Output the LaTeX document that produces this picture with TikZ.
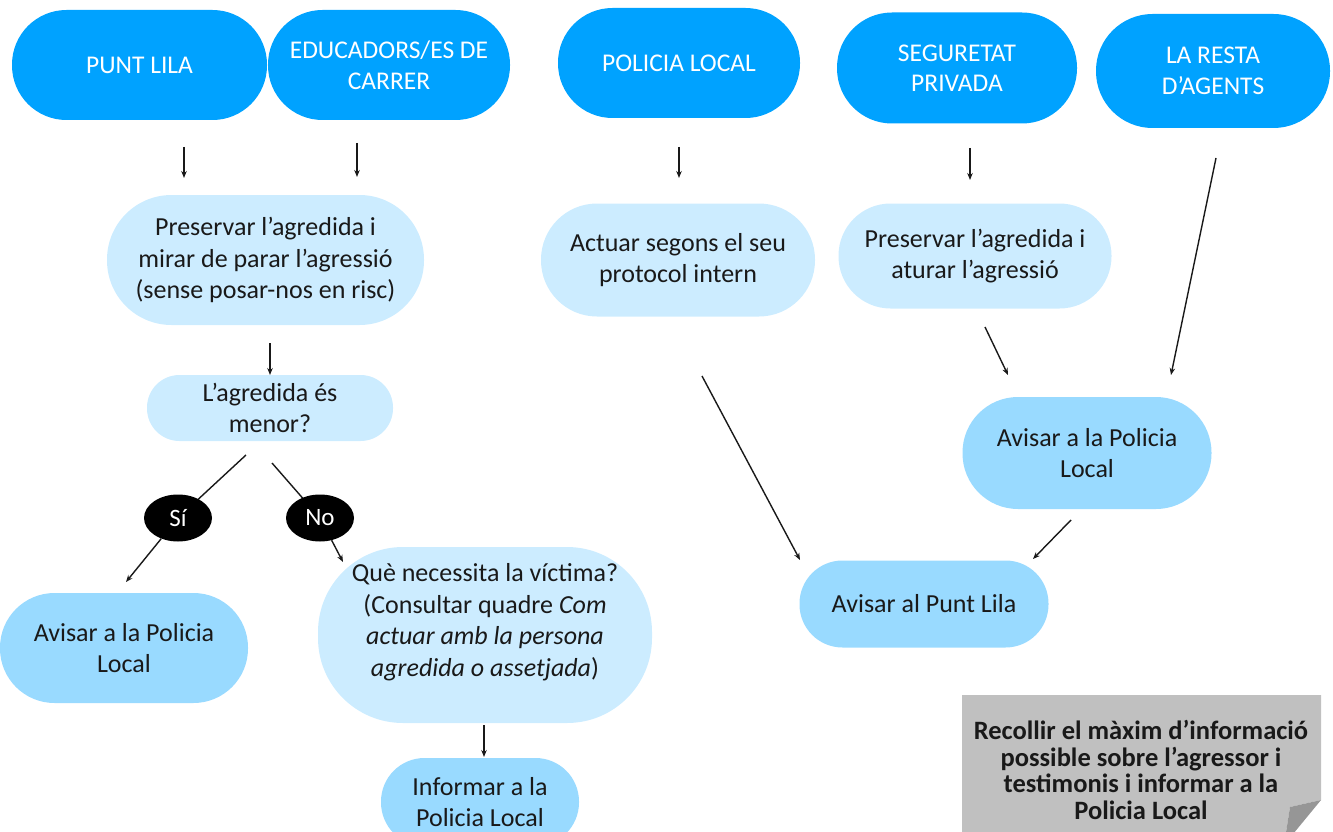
\documentclass[tikz,border=0pt]{standalone}
\usepackage{fontspec}
\setmainfont{Carlito}
\usetikzlibrary{shapes.geometric,arrows.meta}
\definecolor{dblue}{RGB}{0,162,255}
\definecolor{lblue}{RGB}{204,236,255}
\definecolor{mblue}{RGB}{153,218,255}
\definecolor{notegray}{RGB}{192,192,192}
\definecolor{foldgray}{RGB}{150,150,150}
\definecolor{inkcol}{RGB}{25,25,25}
\tikzset{
  box/.style={draw=none, align=center, inner sep=0pt, font=\fontsize{26}{31.5}\selectfont},
  dk/.style={box, fill=dblue, text=white, font=\fontsize{25.5}{30.5}\selectfont},
  lt/.style={box, fill=lblue, text=inkcol},
  md/.style={box, fill=mblue, text=inkcol},
  yn/.style={ellipse, fill=black, text=white, inner sep=0pt, minimum width=68pt, minimum height=47pt, font=\fontsize{25}{28}\selectfont},
  arr/.style={-{Stealth[length=7pt,width=5.5pt]}, line width=1.4pt, draw=inkcol},
  ln/.style={line width=1.4pt, draw=inkcol},
}
\begin{document}
\begin{tikzpicture}[x=1pt,y=-1pt]
\useasboundingbox (0,0) rectangle (1333,832);
\clip (0,0) rectangle (1333,832);
% top row
\node[dk, minimum width=255pt, minimum height=110pt, rounded corners=54.5pt] (punt) at (139.5,65) {PUNT LILA};
\node[dk, minimum width=242pt, minimum height=110pt, rounded corners=54.5pt] (educ) at (389,65) {EDUCADORS/ES DE\\CARRER};
\node[dk, minimum width=242pt, minimum height=110pt, rounded corners=54.5pt] (pol) at (679,63) {POLICIA LOCAL};
\node[dk, minimum width=240pt, minimum height=111pt, rounded corners=55pt] (seg) at (957,68) {SEGURETAT\\PRIVADA};
\node[dk, minimum width=234pt, minimum height=114pt, rounded corners=56.5pt] (resta) at (1213,71) {LA RESTA\\D’AGENTS};
% second row
\node[lt, minimum width=317pt, minimum height=130pt, rounded corners=64.5pt] (pres1) at (265.5,260) {Preservar l’agredida i\\mirar de parar l’agressió\\(sense posar-nos en risc)};
\node[lt, minimum width=274pt, minimum height=113pt, rounded corners=56pt] (actuar) at (678,260) {Actuar segons el seu\\protocol intern};
\node[lt, minimum width=273pt, minimum height=105pt, rounded corners=52pt] (pres2) at (975,256) {Preservar l’agredida i\\aturar l’agressió};
% left branch
\node[lt, minimum width=246pt, minimum height=66pt, rounded corners=32.5pt] (menor) at (270,408) {L’agredida és\\menor?};
\node[md, minimum width=248pt, minimum height=110pt, rounded corners=54.5pt] (avis1) at (124,648) {Avisar a la Policia\\Local};
\node[lt, minimum width=334pt, minimum height=176pt, rounded corners=85pt] (que) at (485,635) {};
\node[box, text=inkcol] (quetxt) at (485,622) {Què necessita la víctima?\\(Consultar quadre \textit{Com}\\\textit{actuar amb la persona}\\\textit{agredida o assetjada})};
\node[md, minimum width=198pt, minimum height=88pt, rounded corners=43.5pt] (inf) at (480,802) {Informar a la\\Policia Local};
% right branch
\node[md, minimum width=249pt, minimum height=112pt, rounded corners=55.5pt] (avis2) at (1087,453) {Avisar a la Policia\\Local};
\node[md, minimum width=249pt, minimum height=87pt, rounded corners=43pt] (avispl) at (924,604) {Avisar al Punt Lila};
% note
\fill[notegray] (962,695) -- (1321,695) -- (1321,800) -- (1290,807) -- (1284,845) -- (962,845) -- cycle;
\fill[foldgray] (1321,800) -- (1290,807) -- (1284,845) -- cycle;
\node[align=center, text=inkcol, font=\bfseries\fontsize{26.5}{26.7}\selectfont] (note) at (1141,770) {Recollir el màxim d’informació\\possible sobre l’agressor i\\testimonis i informar a la\\Policia Local};
% arrow end points
\coordinate (a1s) at (184,147); \coordinate (a1e) at (184,178);
\coordinate (a2s) at (357,143); \coordinate (a2e) at (357,177);
\coordinate (a3s) at (679,147); \coordinate (a3e) at (679,178);
\coordinate (a4s) at (970,148); \coordinate (a4e) at (970,180);
\coordinate (a5s) at (1216,158); \coordinate (a5e) at (1171,375);
\coordinate (a6s) at (270,343); \coordinate (a6e) at (270,375);
\coordinate (sis) at (246,455); \coordinate (sie) at (126,582);
\coordinate (nos) at (272,463); \coordinate (noe) at (343,562);
\coordinate (a9s) at (484,725); \coordinate (a9e) at (484,757);
\coordinate (a10s) at (702,376); \coordinate (a10e) at (800,560);
\coordinate (a11s) at (985,327); \coordinate (a11e) at (1008,375);
\coordinate (a12s) at (1071,520); \coordinate (a12e) at (1033,559);
\draw[ln] (sis) -- (178,518);
\draw[ln] (nos) -- (320,518);
\node[yn] (si) at (178,518) {Sí};
\node[yn] (no) at (320,518) {No};
\draw[arr] (a1s) -- (a1e);
\draw[arr] (a2s) -- (a2e);
\draw[arr] (a3s) -- (a3e);
\draw[arr] (a4s) -- (a4e);
\draw[arr] (a5s) -- (a5e);
\draw[arr] (a6s) -- (a6e);
\draw[arr] (si) -- (sie);
\draw[arr] (no) -- (noe);
\draw[arr] (a9s) -- (a9e);
\draw[arr] (a10s) -- (a10e);
\draw[arr] (a11s) -- (a11e);
\draw[arr] (a12s) -- (a12e);
\end{tikzpicture}
\end{document}
